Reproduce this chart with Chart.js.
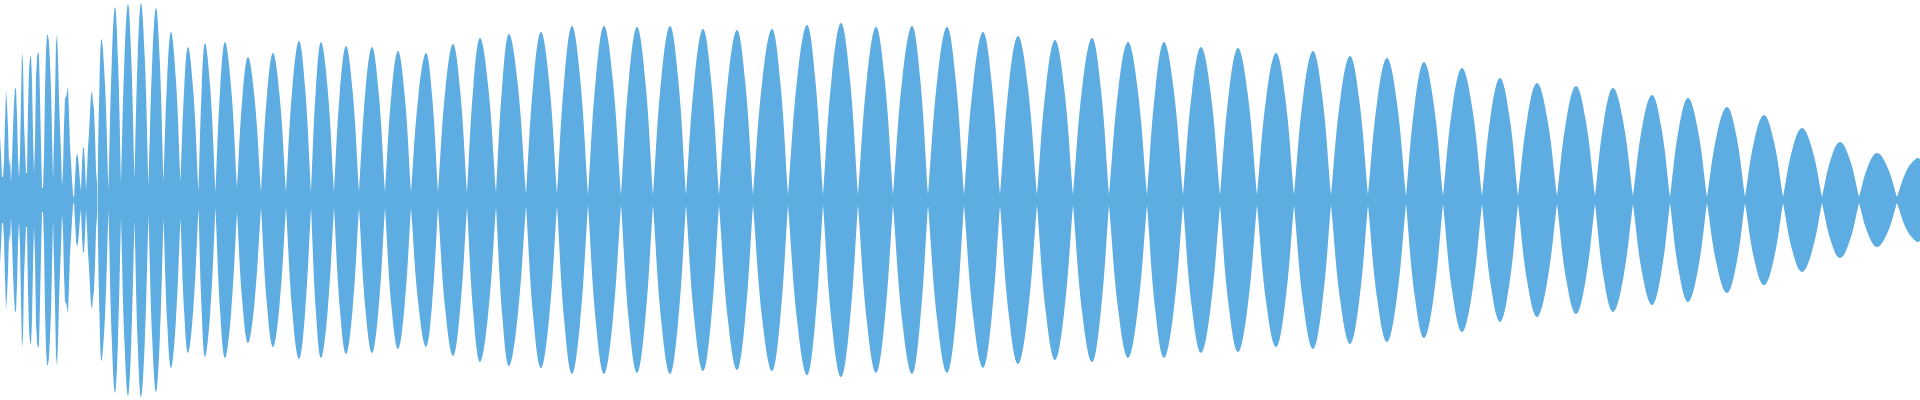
<!DOCTYPE html>
<html>
<head>
<meta charset="utf-8">
<script src="https://cdn.jsdelivr.net/npm/chart.js@4.4.1/dist/chart.umd.min.js"></script>
<style>
  body { margin: 0; background: #fff; }
  #wrap { width: 1920px; height: 400px; }
</style>
</head>
<body>
<div id="wrap"><canvas id="wave"></canvas></div>
<script>
// noisy onset: one amplitude per time step, t = 0..96
const spikeAmp = [64, 46, 23, 23, 39, 79, 110, 96, 72, 34,
  43, 17, 40, 73, 97, 112, 111, 86, 42, 21,
  47, 102, 149, 137, 77, 52, 27, 27, 92, 131,
  142, 145, 120, 65, 26, 57, 123, 142, 148, 146,
  102, 54, 12, 12, 42, 110, 150, 165, 165, 157,
  137, 112, 66, 20, 64, 103, 157, 166, 143, 100,
  72, 47, 13, 31, 74, 102, 103, 107, 114, 86,
  54, 38, 20, 5, 2, 21, 41, 47, 43, 32,
  18, 9, 37, 53, 52, 35, 9, 28, 53, 67,
  88, 105, 109, 98, 91, 65, 30];

// beating part: node (envelope minimum) and peak of each lobe
const nodeX = [97.5, 108.5, 121, 134.5, 148.5, 163.5, 180.5, 198.5, 215.5, 237,
  261, 286, 311, 334, 359, 385, 411, 438, 467, 496,
  526, 557, 588, 621, 653, 686, 719, 753, 788, 823,
  858, 893, 928, 964, 1000, 1037, 1073, 1109, 1147, 1183,
  1220, 1257, 1294, 1331, 1368, 1406, 1443, 1482, 1518, 1557,
  1595, 1633, 1670, 1707, 1745, 1783, 1822, 1859, 1897];
const nodeAmp = [10, 10, 17, 20, 15, 18, 18, 8, 8, 12,
  8, 8, 8, 8, 8, 8, 8, 8, 7, 7,
  6, 6, 5, 5, 5, 5, 5, 5, 5, 5,
  5, 5, 5, 5, 5, 5, 5, 5, 5, 5,
  5, 5, 5, 5, 5, 4, 4, 4, 4, 4,
  4, 4, 3, 3, 3, 3, 3, 3, 3];
const peakX = [101.5, 115, 128, 141, 156, 171, 188, 205, 225, 248,
  273, 299, 321, 346, 372, 398, 426, 453, 480, 509,
  541, 572, 604, 637, 670, 703, 737, 772, 807, 841,
  876, 912, 947, 983, 1018, 1055, 1092, 1128, 1164, 1201,
  1238, 1276, 1313, 1350, 1387, 1424, 1462, 1500, 1537, 1576,
  1613, 1652, 1688, 1727, 1764, 1802, 1840, 1877, 1917];
const peakAmp = [161, 193, 196, 197, 192, 168, 153, 157, 158, 143,
  147, 159, 158, 154, 153, 149, 147, 156, 162, 166,
  168, 174, 174, 173, 174, 171, 170, 171, 175, 177,
  173, 174, 173, 168, 164, 160, 162, 158, 158, 153,
  152, 147, 149, 144, 142, 138, 132, 122, 117, 114,
  112, 105, 102, 93, 85, 72, 58, 47, 42];
const endX = 1920;
const endAmp = 41;

// lobe height half way between node and peak, measured on a lobe (~0.7 of peak)
const shoulderLevel = 0.7;

const waveColor = '#5dade2';

let spikeTop = spikeAmp.map((a, i) => ({ x: i, y: a }));
spikeTop.push({ x: nodeX[0], y: nodeAmp[0] });
let spikeBottom = spikeTop.map(p => ({ x: p.x, y: -p.y }));

// node is listed twice so the curve comes to a point there
let lobeTop = [];
nodeX.forEach((x, i) => {
    let n = nodeAmp[i];
    let p = peakAmp[i];
    lobeTop.push({ x: x, y: n });
    lobeTop.push({ x: x, y: n });
    lobeTop.push({ x: (x + peakX[i]) / 2, y: n + (p - n) * shoulderLevel });
    lobeTop.push({ x: peakX[i], y: p });
    if (i + 1 < nodeX.length) {
        let n2 = nodeAmp[i + 1];
        lobeTop.push({ x: (peakX[i] + nodeX[i + 1]) / 2, y: n2 + (p - n2) * shoulderLevel });
    }
});
lobeTop.push({ x: endX, y: endAmp });
let lobeBottom = lobeTop.map(p => ({ x: p.x, y: -p.y }));

const ctx = document.getElementById('wave').getContext('2d');
const chart = new Chart(ctx, {
    type: 'line',
    data: {
        datasets: [
            { data: spikeTop, fill: false, tension: 0 },
            { data: spikeBottom, fill: '-1', tension: 0 },
            { data: lobeTop, fill: false, tension: 0.4 },
            { data: lobeBottom, fill: '-1', tension: 0.4 }
        ]
    },
    options: {
        responsive: true,
        maintainAspectRatio: false,
        animation: false,
        layout: { padding: 0 },
        elements: {
            point: { radius: 0, hoverRadius: 0 },
            line: { borderWidth: 0, borderColor: waveColor, backgroundColor: waveColor }
        },
        scales: {
            x: { type: 'linear', min: 0, max: 1920, display: false },
            y: { min: -200, max: 200, display: false }
        },
        plugins: {
            legend: { display: false },
            tooltip: { enabled: false }
        }
    }
});
</script>
</body>
</html>
